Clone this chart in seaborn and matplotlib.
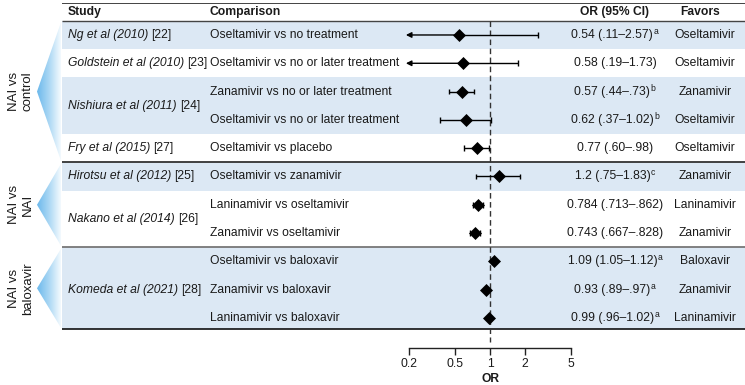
import numpy as np
import pandas as pd
import matplotlib
matplotlib.use('Agg')
import matplotlib.pyplot as plt
import seaborn as sns
from matplotlib.colors import LinearSegmentedColormap
from matplotlib.patches import Polygon

# data
studies = ['Ng et al (2010)', 'Goldstein et al (2010)', 'Nishiura et al (2011)',
           'Fry et al (2015)', 'Hirotsu et al (2012)', 'Nakano et al (2014)', 'Komeda et al (2021)']
study_refs = ['[22]', '[23]', '[24]', '[27]', '[25]', '[26]', '[28]']
study_rows = [1, 2, 3.5, 5, 6, 7.5, 10]
comparisons = ['Oseltamivir vs no treatment', 'Oseltamivir vs no or later treatment',
               'Zanamivir vs no or later treatment', 'Oseltamivir vs no or later treatment',
               'Oseltamivir vs placebo', 'Oseltamivir vs zanamivir', 'Laninamivir vs oseltamivir',
               'Zanamivir vs oseltamivir', 'Oseltamivir vs baloxavir', 'Zanamivir vs baloxavir',
               'Laninamivir vs baloxavir']
odds = [0.54, 0.58, 0.57, 0.62, 0.77, 1.2, 0.784, 0.743, 1.09, 0.93, 0.99]
ci_low = [0.11, 0.19, 0.44, 0.37, 0.60, 0.75, 0.713, 0.667, 1.05, 0.89, 0.96]
ci_high = [2.57, 1.73, 0.73, 1.02, 0.98, 1.83, 0.862, 0.828, 1.12, 0.97, 1.02]
or_labels = ['0.54 (.11\u20132.57)', '0.58 (.19\u20131.73)', '0.57 (.44\u2013.73)', '0.62 (.37\u20131.02)',
             '0.77 (.60\u2013.98)', '1.2 (.75\u20131.83)', '0.784 (.713\u2013.862)', '0.743 (.667\u2013.828)',
             '1.09 (1.05\u20131.12)', '0.93 (.89\u2013.97)', '0.99 (.96\u20131.02)']
notes = ['a', '', 'b', 'b', '', 'c', '', '', 'a', 'a', 'a']
favors = ['Oseltamivir', 'Oseltamivir', 'Zanamivir', 'Oseltamivir', 'Oseltamivir', 'Zanamivir',
          'Laninamivir', 'Zanamivir', 'Baloxavir', 'Zanamivir', 'Laninamivir']
groups = ['NAI vs\ncontrol', 'NAI vs\nNAI', 'NAI vs\nbaloxavir']
group_spans = [(0.5, 5.5), (5.5, 8.5), (8.5, 11.4)]
bands = [(0.5, 1.5), (2.5, 4.5), (5.5, 6.5), (8.5, 11.4)]
ticks = [0.2, 0.5, 1, 2, 5]

rows = np.arange(1, len(odds) + 1)
df = pd.DataFrame({'row': rows, 'OR': odds, 'lo': ci_low, 'hi': ci_high})

sns.set_style('white')
plt.rcParams['font.family'] = ['Liberation Sans', 'DejaVu Sans']
fs = 8.7
txt_col = '#1a1a1a'
band_col = '#dce8f4'

W, H = 745, 385
fig = plt.figure(figsize=(W / 100, H / 100), dpi=100)
ytop, ybot = -0.13, 12.06
pos = [0, 1 - 348 / H, 1, 345 / H]

# table layer (pixel x, row y)
tax = fig.add_axes(pos)
tax.set_xlim(0, W)
tax.set_ylim(ybot, ytop)
tax.axis('off')
renderer = fig.canvas.get_renderer()

for y0, y1 in bands:
    tax.fill_between([62, W], y0, y1, color=band_col, lw=0, zorder=0)
for y, c, lw in [(ytop, '#222222', 1.2), (0.5, '#444444', 1.0), (5.5, '#333333', 1.3),
                 (8.5, '#777777', 1.3), (11.4, '#111111', 1.2)]:
    tax.plot([62, W], [y, y], color=c, lw=lw, solid_capstyle='butt', zorder=2)

def put_runs(x, y, parts, ha='left'):
    # parts: (text, kwargs, gap before, raise in px)
    objs = []
    total = 0
    for s, kw, gap, dy in parts:
        t = tax.text(0, y, s, va='center', ha='left', color=txt_col, **kw)
        w = t.get_window_extent(renderer).width
        objs.append((t, gap, dy, w))
        total += gap + w
    x0 = x - total / 2 if ha == 'center' else x
    for t, gap, dy, w in objs:
        x0 += gap
        t.set_x(x0)
        t.set_y(y - dy / 28.3)
        x0 += w

# headers
hy = 0.2
tax.text(68, hy, 'Study', fontsize=fs, fontweight='bold', va='center', color=txt_col)
tax.text(210, hy, 'Comparison', fontsize=fs, fontweight='bold', va='center', color=txt_col)
tax.text(615, hy, 'OR (95% CI)', fontsize=fs, fontweight='bold', va='center', ha='center', color=txt_col)
tax.text(700, hy, 'Favors', fontsize=fs, fontweight='bold', va='center', ha='center', color=txt_col)

for s, r, y in zip(studies, study_refs, study_rows):
    put_runs(68, y, [(s, dict(fontsize=fs, style='italic'), 0, 0),
                     (r, dict(fontsize=fs), 3.2, 0)])
for i, row in enumerate(rows):
    tax.text(210, row, comparisons[i], fontsize=fs, va='center', color=txt_col)
    parts = [(or_labels[i], dict(fontsize=fs), 0, 0)]
    if notes[i]:
        parts.append((notes[i], dict(fontsize=6.2), 0.6, 3.5))
    put_runs(615, row, parts, ha='center')
    tax.text(705, row, favors[i], fontsize=fs, va='center', ha='center', color=txt_col)

# group labels with fading wedges
cmap = LinearSegmentedColormap.from_list('wedge', ['#6db9ec', '#aad7f4', '#f4fafe'])
for lab, (y0, y1) in zip(groups, group_spans):
    mid = (y0 + y1) / 2
    poly = Polygon([(61, y0 + 0.05), (37, mid), (61, y1 - 0.05)], closed=True,
                   transform=tax.transData, facecolor='none', edgecolor='none')
    tax.add_patch(poly)
    im = tax.imshow(np.linspace(0, 1, 64).reshape(1, -1), cmap=cmap, aspect='auto',
                    extent=[37, 61, y1, y0], zorder=1)
    im.set_clip_path(poly)
    tax.text(21, mid, lab, fontsize=9.5, rotation=90, ha='center', va='center',
             linespacing=1.15, color=txt_col)
tax.set_xlim(0, W)
tax.set_ylim(ybot, ytop)

# forest layer (log OR, same rows)
fax = fig.add_axes(pos)
fax.patch.set_alpha(0)
fax.set_xscale('log')
px_dec = 115.9
xl = (10 ** ((0 - 490) / px_dec), 10 ** ((W - 490) / px_dec))
fax.set_xlim(xl)
fax.set_ylim(ybot, ytop)
fax.vlines(1, 0.5, 11.85, colors='#333333', lw=1, linestyles=(0, (4, 2.5)), zorder=2)

clip_lo = 0.188
for _, d in df.iterrows():
    y = d['row']
    if d['lo'] < 0.2:
        fax.annotate('', xy=(clip_lo, y), xytext=(d['OR'], y),
                     arrowprops=dict(arrowstyle='-|>', color='black', lw=1,
                                     mutation_scale=8, shrinkA=0, shrinkB=0), zorder=3)
        fax.hlines(y, d['OR'], d['hi'], color='black', lw=1, zorder=3)
        fax.vlines(d['hi'], y - 0.1, y + 0.1, color='black', lw=1, zorder=3)
    else:
        fax.hlines(y, d['lo'], d['hi'], color='black', lw=1, zorder=3)
        fax.vlines([d['lo'], d['hi']], y - 0.1, y + 0.1, color='black', lw=1, zorder=3)

sns.scatterplot(data=df, x='OR', y='row', marker='D', s=44, color='black',
                linewidth=0, ax=fax, zorder=5, legend=False)
fax.set_xlim(xl)
fax.set_ylim(ybot, ytop)

for sp in ['top', 'left', 'right']:
    fax.spines[sp].set_visible(False)
fax.spines['bottom'].set_bounds(0.2, 5)
fax.spines['bottom'].set_color('#222222')
fax.spines['bottom'].set_linewidth(1)
fax.set_xticks(ticks)
fax.set_xticklabels([str(t) for t in ticks])
fax.minorticks_off()
fax.tick_params(axis='x', direction='out', length=5, width=1, pad=2.5,
                labelsize=fs, color='#222222', labelcolor=txt_col, bottom=True)
fax.set_yticks([])
fax.set_xlabel('OR', fontsize=fs, fontweight='bold', color=txt_col)
fax.xaxis.set_label_coords(490 / W, -25 / 345)
fax.set_ylabel('')

fig.savefig('out.png', dpi=100)
